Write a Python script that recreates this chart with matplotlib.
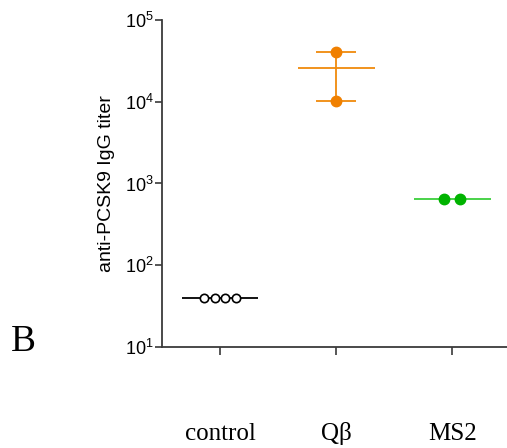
import matplotlib
matplotlib.use("Agg")
import matplotlib.pyplot as plt
import numpy as np

categories = ["control", "Qβ", "MS2"]
control_vals = [40, 40, 40, 40]
qb_vals = [40960, 10240]
ms2_vals = [640, 640]
yticks = [10, 100, 1000, 10000, 100000]

fig = plt.figure(figsize=(5.07, 4.48), dpi=100)
ax = fig.add_axes([162/507, (448-347)/448, 1 - 162/507, (347-20)/448])
ax.set_yscale("log")
ax.set_ylim(10, 1e5)
ax.set_xlim(-0.5, 2.47)

spine_c = "#3a3a3a"
# control
ctrl_off = [-0.138, -0.046, 0.046, 0.138]
ax.hlines(np.mean(control_vals), 0 - 0.33, 0 + 0.33, color="black", lw=1.3, zorder=2)
ax.plot([0 + o for o in ctrl_off], control_vals, "o", ms=6, mfc="white", mec="black", mew=1.2, zorder=3, ls="none")

# Qβ
orange = "#F08A0C"
qb_mean = np.mean(qb_vals)
ax.hlines(qb_mean, 1 - 0.33, 1 + 0.33, color=orange, lw=1.3, zorder=2)
ax.vlines(1, min(qb_vals), max(qb_vals), color=orange, lw=1.3, zorder=2)
ax.hlines([min(qb_vals), max(qb_vals)], 1 - 0.17, 1 + 0.17, color=orange, lw=1.3, zorder=2)
ax.plot([1, 1], qb_vals, "o", ms=7.5, color="#F08000", ls="none", zorder=3)

# MS2
ax.hlines(np.mean(ms2_vals), 2 - 0.33, 2 + 0.33, color="#3CCF3C", lw=1.3, zorder=2)
ax.plot([2 - 0.069, 2 + 0.069], ms2_vals, "o", ms=7.5, color="#00B300", ls="none", zorder=3)

for s in ["top", "right"]:
    ax.spines[s].set_visible(False)
for s in ["left", "bottom"]:
    ax.spines[s].set_color(spine_c)
    ax.spines[s].set_linewidth(1.3)

ax.set_yticks(yticks)
ax.set_yticklabels([r"$\mathregular{10^{%d}}$" % int(np.log10(v)) for v in yticks],
                   fontfamily="Liberation Sans", fontsize=13)
ax.yaxis.set_minor_locator(matplotlib.ticker.NullLocator())
ax.tick_params(axis="y", direction="out", length=5, width=1.2, color=spine_c, pad=1)
for lab in ax.get_yticklabels():
    lab.set_va("center_baseline")
ax.set_xticks([0, 1, 2])
ax.set_xticklabels(categories, fontfamily="Liberation Serif", fontsize=18)
for lab in ax.get_xticklabels():
    lab.set_va("baseline")
ax.tick_params(axis="x", direction="out", length=6, width=1.2, color=spine_c, pad=61)

ax.set_ylabel("anti-PCSK9 IgG titer", fontfamily="Liberation Sans", fontsize=14, labelpad=7)
fig.text(23/507, 1 - 342/448, "B", fontfamily="Liberation Serif", fontsize=27, ha="center", va="center")

fig.savefig("out.png", dpi=100)
